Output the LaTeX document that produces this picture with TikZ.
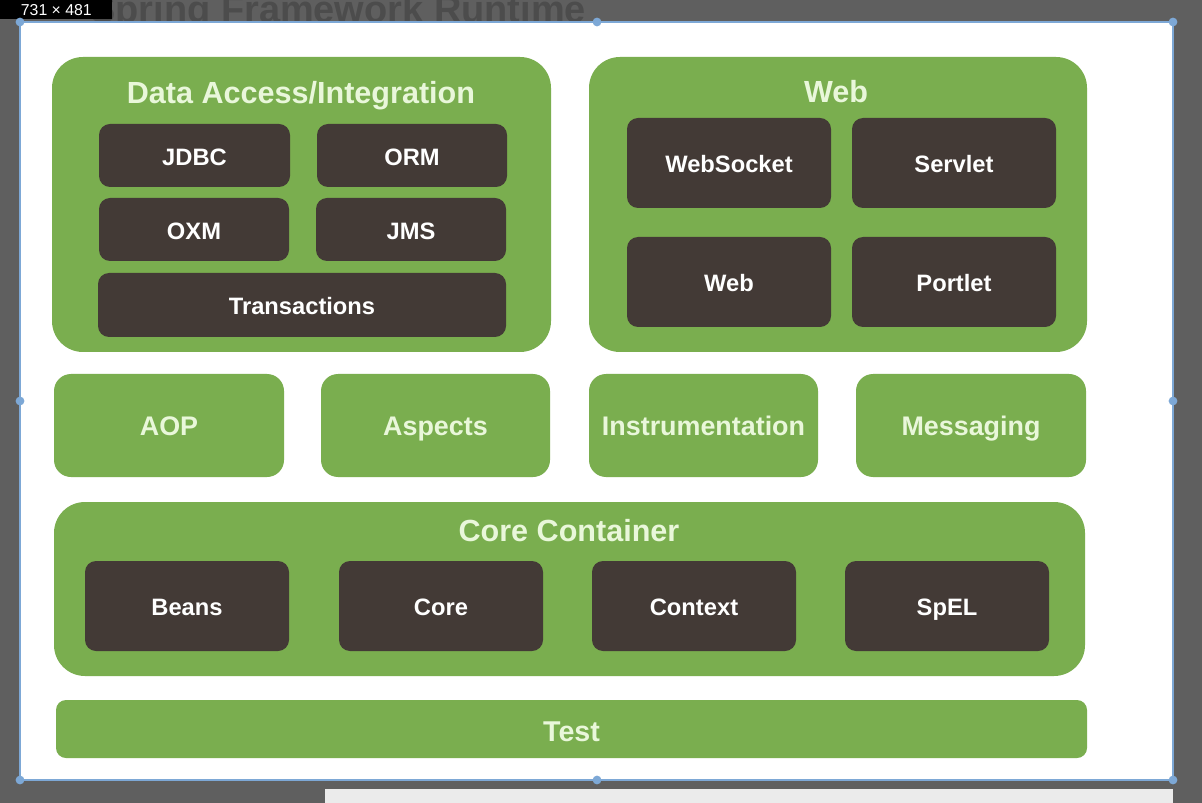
\documentclass[tikz,border=0pt]{standalone}
\usepackage{fontspec}
\setmainfont{Liberation Sans}
\usetikzlibrary{positioning}
\definecolor{springGreen}{RGB}{122,174,79}
\definecolor{moduleDark}{RGB}{67,58,54}
\definecolor{titleText}{RGB}{233,247,218}
\definecolor{screenGray}{RGB}{95,95,95}
\definecolor{frameBlue}{RGB}{125,168,214}
\tikzstyle{screen} = [x = 0.02cm, y = -0.02cm]
\tikzstyle{groupStyle} = [fill=springGreen, rounded corners = .62cm, inner sep = 0pt]
\tikzstyle{darkStyle} = [fill=moduleDark, rounded corners = .22cm, inner sep = 0pt, text=white, text height = 2.45ex, text depth = .35ex, font=\fontsize{13.5}{16}\selectfont\bfseries]
\tikzstyle{lightStyle} = [fill=springGreen, rounded corners = .34cm, inner sep = 0pt, text=titleText, text height = 2.45ex, text depth = .35ex, font=\fontsize{15.3}{18}\selectfont\bfseries]
\tikzstyle{testStyle} = [lightStyle, rounded corners = .2cm, text height = 2.95ex, font=\fontsize{16.3}{19}\selectfont\bfseries]
\tikzstyle{groupTitle} = [text=titleText, inner sep = 0pt, text height = 2.55ex, text depth = .35ex, font=\fontsize{17.4}{20}\selectfont\bfseries]
\tikzstyle{handleDot} = [fill=frameBlue]
\newcommand{\unitPx}{0.02cm}
\newcommand{\moduleBox}[7]{\node [#1, minimum width = {(#5 - #3) * \unitPx}, minimum height = {(#6 - #4) * \unitPx}] (#2) at ({(#3 + #5) / 2}, {(#4 + #6) / 2}) {#7};}
\begin{document}
\begin{tikzpicture}[screen]
  \useasboundingbox (0,0) rectangle (1202,803);
  \fill [screenGray] (0,0) rectangle (1202,803);
  \node [anchor=base west, inner sep=0pt, text=black!70, font=\fontsize{21.6}{24}\selectfont\bfseries] (pageTitle) at (90, 23) {Spring Framework Runtime};
  \node [anchor=north west, fill=black, text=white, inner sep=0pt, minimum width={112 * \unitPx}, minimum height={19 * \unitPx}, font=\fontsize{9}{10}\selectfont] (sizeBadge) at (0,0) {731 × 481};
  \fill [black!8] (325,789) rectangle (1173,803);
  \filldraw [fill=white, draw=frameBlue, line width=1.2pt] (20,22) rectangle (1173,780);
  \foreach \hx/\hy in {20/22, 597/22, 1173/22, 20/401, 1173/401, 20/780, 597/780, 1173/780} {
    \fill [handleDot] (\hx,\hy) circle (2.5pt);
  }

  \moduleBox{groupStyle}{dataGroup}{52}{57}{551}{352}{}
  \node [groupTitle] (dataTitle) at (301, 93) {Data Access/Integration};
  \moduleBox{darkStyle}{jdbc}{99}{124}{290}{187}{JDBC}
  \moduleBox{darkStyle}{orm}{317}{124}{507}{187}{ORM}
  \moduleBox{darkStyle}{oxm}{99}{198}{289}{261}{OXM}
  \moduleBox{darkStyle}{jms}{316}{198}{506}{261}{JMS}
  \moduleBox{darkStyle}{transactions}{98}{273}{506}{337}{Transactions}

  \moduleBox{groupStyle}{webGroup}{589}{57}{1087}{352}{}
  \node [groupTitle] (webTitle) at (836, 92) {Web};
  \moduleBox{darkStyle}{webSocket}{627}{118}{831}{208}{WebSocket}
  \moduleBox{darkStyle}{servlet}{852}{118}{1056}{208}{Servlet}
  \moduleBox{darkStyle}{webModule}{627}{237}{831}{327}{Web}
  \moduleBox{darkStyle}{portlet}{852}{237}{1056}{327}{Portlet}

  \moduleBox{lightStyle}{aop}{54}{374}{284}{477}{AOP}
  \moduleBox{lightStyle}{aspects}{321}{374}{550}{477}{Aspects}
  \moduleBox{lightStyle}{instrumentation}{589}{374}{818}{477}{Instrumentation}
  \moduleBox{lightStyle}{messaging}{856}{374}{1086}{477}{Messaging}

  \moduleBox{groupStyle}{coreGroup}{54}{502}{1085}{676}{}
  \node [groupTitle] (coreTitle) at (569, 531) {Core Container};
  \moduleBox{darkStyle}{beans}{85}{561}{289}{651}{Beans}
  \moduleBox{darkStyle}{coreModule}{339}{561}{543}{651}{Core}
  \moduleBox{darkStyle}{context}{592}{561}{796}{651}{Context}
  \moduleBox{darkStyle}{spel}{845}{561}{1049}{651}{SpEL}

  \moduleBox{testStyle}{test}{56}{700}{1087}{758}{Test}
\end{tikzpicture}
\end{document}
